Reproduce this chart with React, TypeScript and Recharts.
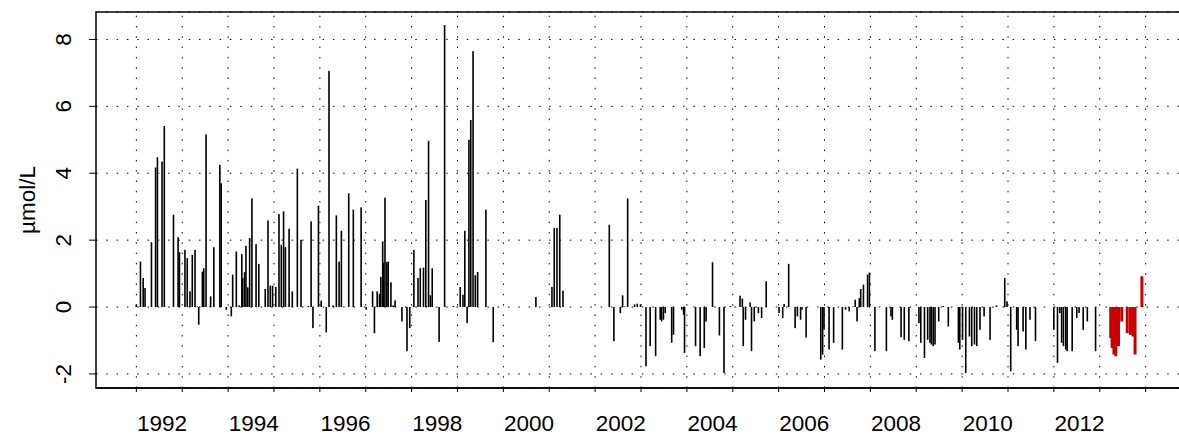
import { ComposedChart, Bar, XAxis, YAxis, CartesianGrid, ReferenceLine, ReferenceArea, Label } from 'recharts';

// observation dates (decimal years) and anomalies, µmol/L
const dates = [
  1992.00, 1992.09, 1992.15, 1992.19, 1992.33, 1992.42, 1992.46, 1992.56, 1992.61, 1992.81, 1992.91, 1992.94,
  1993.06, 1993.11, 1993.17, 1993.22, 1993.28, 1993.33, 1993.36, 1993.44, 1993.47, 1993.52, 1993.62, 1993.69,
  1993.82, 1993.85, 1993.96, 1994.07, 1994.10, 1994.18, 1994.24, 1994.30, 1994.32, 1994.36, 1994.39, 1994.43,
  1994.47, 1994.52, 1994.61, 1994.67, 1994.81, 1994.87, 1994.92, 1994.97, 1995.04, 1995.11, 1995.16, 1995.21,
  1995.25, 1995.33, 1995.40, 1995.51, 1995.59, 1995.75, 1995.81, 1995.85, 1995.97, 1996.03, 1996.14, 1996.20,
  1996.29, 1996.36, 1996.42, 1996.47, 1996.63, 1996.73, 1996.90, 1997.01, 1997.15, 1997.19, 1997.25, 1997.30,
  1997.33, 1997.37, 1997.39, 1997.42, 1997.46, 1997.49, 1997.55, 1997.60, 1997.64, 1997.79, 1997.90, 1997.96,
  1998.05, 1998.14, 1998.19, 1998.26, 1998.31, 1998.37, 1998.41, 1998.45, 1998.60, 1998.72, 1998.91, 1999.06,
  1999.12, 1999.16, 1999.21, 1999.25, 1999.29, 1999.34, 1999.39, 1999.44, 1999.62, 1999.78, 2000.71, 2001.06,
  2001.11, 2001.17, 2001.23, 2001.30, 2002.31, 2002.41, 2002.55, 2002.60, 2002.64, 2002.71, 2002.86, 2002.92,
  2002.99, 2003.11, 2003.20, 2003.32, 2003.42, 2003.45, 2003.49, 2003.53, 2003.67, 2003.71, 2003.89, 2003.93,
  2003.95, 2004.19, 2004.29, 2004.38, 2004.42, 2004.56, 2004.71, 2004.81, 2004.95, 2005.16, 2005.21, 2005.23,
  2005.28, 2005.38, 2005.41, 2005.47, 2005.56, 2005.63, 2005.73, 2006.01, 2006.09, 2006.12, 2006.22, 2006.36,
  2006.41, 2006.48, 2006.51, 2006.60, 2006.92, 2006.96, 2006.99, 2007.10, 2007.20, 2007.39, 2007.46, 2007.54,
  2007.62, 2007.67, 2007.71, 2007.76, 2007.79, 2007.85, 2007.94, 2007.98, 2008.10, 2008.35, 2008.45, 2008.48,
  2008.67, 2008.74, 2008.84, 2009.06, 2009.10, 2009.18, 2009.25, 2009.30, 2009.33, 2009.37, 2009.41, 2009.49,
  2009.59, 2009.70, 2009.92, 2009.95, 2010.01, 2010.08, 2010.16, 2010.21, 2010.27, 2010.32, 2010.39, 2010.48,
  2010.61, 2010.75, 2010.93, 2010.98, 2011.06, 2011.19, 2011.22, 2011.33, 2011.39, 2011.48, 2011.60, 2012.00,
  2012.08, 2012.13, 2012.17, 2012.21, 2012.26, 2012.29, 2012.40, 2012.50, 2012.55, 2012.64, 2012.73, 2012.91,
];
const values = [
  0.07, 1.36, 0.87, 0.57, 1.94, 4.17, 4.48, 4.35, 5.41, 2.76, 2.09, 1.64,
  1.71, 1.46, 0.47, 1.56, 1.71, 0.02, -0.53, 1.06, 1.16, 5.16, 0.32, 1.79,
  4.25, 3.7, -0.08, -0.28, 0.97, 1.66, 0.05, 1.58, 0.87, 1.04, 1.83, 0.59,
  2.06, 3.25, 1.88, 1.29, 0.54, 2.59, 0.64, 0.64, 0.6, 2.78, 1.86, 2.86,
  1.79, 2.34, 0.47, 4.14, 2.01, 0.03, 2.56, -0.63, 3.03, 0.19, -0.76, 7.06,
  0.05, 2.74, 1.36, 2.28, 3.4, 2.91, 2.98, -0.08, 0.47, -0.78, 0.47, 0.4,
  0.9, 1.96, 1.33, 3.27, 1.34, 1.36, 0.74, 0.05, 0.2, -0.43, -1.32, -0.63,
  1.71, 0.87, 1.16, 1.18, 3.2, 4.97, 0.35, 1.16, -1.04, 8.43, 0.03, 0.6,
  0.37, 2.28, -0.48, 5.0, 5.59, 7.65, 0.95, 1.05, 2.91, -1.05, 0.3, 0.6,
  2.36, 2.36, 2.76, 0.49, 2.46, -1.02, -0.18, 0.35, 0.02, 3.25, 0.08, 0.1,
  0.08, -1.77, -1.17, -1.47, -0.38, -0.43, -0.38, -0.18, -1.07, -0.83, -0.08, -0.23,
  -1.37, -1.17, -1.47, -1.22, -0.43, 1.34, -0.85, -1.97, 0.03, 0.34, 0.25, -1.17,
  -0.38, 0.14, -1.32, -0.43, -0.18, -0.33, 0.77, -0.18, -0.33, 0.09, 1.29, -0.63,
  -0.28, -0.38, -0.08, -0.91, -1.57, -1.42, -0.68, -1.27, -1.07, -1.27, -0.08, -0.13,
  0.02, 0.22, -0.43, 0.27, 0.54, 0.67, 0.97, 1.03, -1.32, -1.32, -0.28, -0.38,
  -0.9, -0.98, -1.02, -0.48, -1.07, -1.52, -0.98, -1.07, -1.12, -1.17, -1.12, -0.43,
  0.03, -0.58, -1.07, -1.27, -0.98, -1.97, -0.88, -1.17, -1.12, -1.17, -0.68, -0.28,
  -0.98, 0.05, 0.87, 0.17, -1.92, -0.68, -1.17, -0.73, -1.27, -0.38, -1.02, -0.68,
  -1.67, -0.18, -1.07, -1.17, -1.27, -1.32, -1.32, -0.33, -0.18, -0.68, -0.43, -1.32,
];

// most recent observations, drawn in red
const recentDates = [2013.24, 2013.27, 2013.31, 2013.35, 2013.41, 2013.48, 2013.60, 2013.67, 2013.73, 2013.77, 2013.92];
const recentValues = [-0.93, -1.22, -1.42, -1.47, -1.17, -0.43, -0.78, -0.83, -0.88, -1.42, 0.92];

const yearLabels = [1992, 1994, 1996, 1998, 2000, 2002, 2004, 2006, 2008, 2010, 2012];
const gridYears = [1992, 1993, 1994, 1995, 1996, 1997, 1998, 1999, 2000, 2001, 2002, 2003,
  2004, 2005, 2006, 2007, 2008, 2009, 2010, 2011, 2012, 2013, 2014];
const yTicks = [-2, 0, 2, 4, 6, 8];

const X_MIN = 1991.12;
const X_MAX = 2014.88;
const Y_MIN = -2.42;
const Y_MAX = 8.82;
const LABEL_SHIFT = 0.56;
const RED = '#c80000';
const FONT = '"Liberation Sans", Arial, Helvetica, sans-serif';

const rows = [
  ...dates.map((t, i) => ({ t, v: values[i], red: false })),
  ...recentDates.map((t, i) => ({ t, v: recentValues[i], red: true })),
];

const labelTicks = yearLabels.map((y) => y + LABEL_SHIFT);

const Stick = (props: any) => {
  const { x, y, width, height, payload } = props;
  if (x == null || y == null) return null;
  const w = payload.red ? 3 : 1.6;
  const cx = x + width / 2;
  const top = Math.min(y, y + height);
  const h = Math.max(Math.abs(height), 0.6);
  return <rect x={cx - w / 2} y={top} width={w} height={h} fill={payload.red ? RED : '#000'} />;
};

const XTick = (props: any) => {
  const { x, y, payload } = props;
  const v = payload.value;
  const isLabel = Math.abs(v - Math.round(v)) > 0.01;
  if (isLabel) {
    return (
      <text x={x} y={y + 43} textAnchor="middle" fontSize={22.5} fontFamily={FONT} fill="#000">
        {Math.round(v - LABEL_SHIFT)}
      </text>
    );
  }
  return <line x1={x} x2={x} y1={y} y2={y + 4} stroke="#000" strokeWidth={1} />;
};

const YTick = (props: any) => {
  const { x, y, payload } = props;
  const cx = x - 23;
  return (
    <text
      x={cx}
      y={y}
      transform={`rotate(-90, ${cx}, ${y})`}
      textAnchor="middle"
      dominantBaseline="central"
      fontSize={22.5}
      fontFamily={FONT}
      fill="#000"
    >
      {payload.value}
    </text>
  );
};

const App = () => {
  return (
    <div style={{ position: 'fixed', left: 0, top: 0, width: 1179, height: 438, overflow: 'hidden', background: '#fff' }}>
      <ComposedChart width={1186} height={438} data={rows} margin={{ top: 12, right: 0, bottom: 0, left: 0 }}>
        <CartesianGrid vertical={false} stroke="#000" strokeDasharray="1.5 8.8" />
        {gridYears.map((yr) => (
          <ReferenceLine key={yr} x={yr} stroke="#000" strokeDasharray="1.5 8.8" ifOverflow="visible" />
        ))}
        <XAxis
          dataKey="t"
          type="number"
          domain={[X_MIN, X_MAX]}
          allowDataOverflow
          ticks={[...gridYears, ...labelTicks]}
          interval={0}
          tick={<XTick />}
          tickLine={false}
          tickSize={0}
          tickMargin={0}
          axisLine={{ stroke: '#000', strokeWidth: 1.5 }}
          height={50}
        />
        <YAxis
          type="number"
          domain={[Y_MIN, Y_MAX]}
          allowDataOverflow
          ticks={yTicks}
          interval={0}
          width={96}
          tick={<YTick />}
          tickSize={7}
          tickLine={{ stroke: '#000' }}
          axisLine={false}
        >
          <Label
            content={(p: any) => {
              const vb = p.viewBox || { y: 12, height: 376 };
              const cy = vb.y + vb.height / 2;
              return (
                <text
                  x={27}
                  y={cy}
                  transform={`rotate(-90, 27, ${cy})`}
                  textAnchor="middle"
                  dominantBaseline="central"
                  fontSize={22.5}
                  fontFamily={FONT}
                  fill="#000"
                >
                  µmol/L
                </text>
              );
            }}
          />
        </YAxis>
        <ReferenceArea x1={X_MIN} x2={X_MAX} y1={Y_MIN} y2={Y_MAX} fill="none" stroke="#000" strokeWidth={1.5} ifOverflow="visible" />
        <Bar dataKey="v" barSize={2} shape={<Stick />} isAnimationActive={false} />
      </ComposedChart>
    </div>
  );
};

export default App;
